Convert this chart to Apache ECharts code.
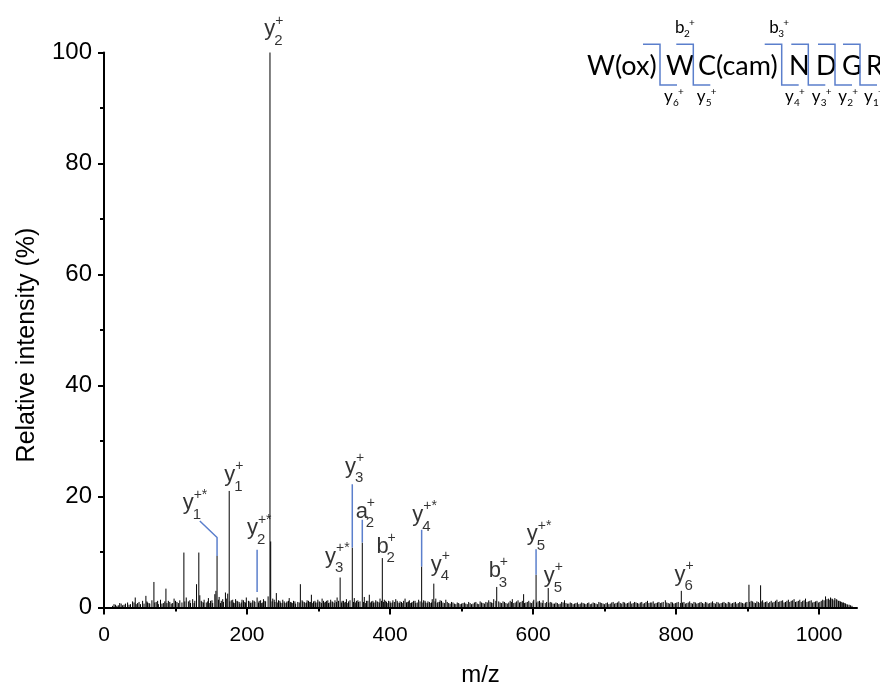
<!DOCTYPE html>
<html><head><meta charset="utf-8">
<script src="https://cdn.jsdelivr.net/npm/echarts@6/dist/echarts.min.js"></script>
<style>html,body{margin:0;padding:0;background:#fff}#c{width:880px;height:687px}</style>
</head><body><div id="c"></div>
<script>
// ---- axis ticks ----
const xTickValues = [0, 200, 400, 600, 800, 1000];
const yTickValues = [0, 20, 40, 60, 80, 100];
const xMaxMz = 1053;

// ---- labelled / prominent peaks [m/z, relative intensity %] ----
const majorPeaks = [
  [43.7,1.8],[58.6,2.1],[69.8,4.6],[86.6,3.4],[111.7,9.9],[129.4,4.2],[132.6,9.9],
  [156.5,3.0],[158.1,9.3],[169.8,2.7],[175.1,21.0],[214.1,1.8],[229.5,2.0],
  [232.1,100],[233.1,11.9],[241.0,2.6],[274.6,4.2],[330.2,5.4],[347.2,10.8],
  [361.2,11.7],[389.2,8.9],[444.2,7.4],[461.2,4.3],[549.2,3.7],[586.8,2.4],
  [604.2,5.9],[621.2,3.5],[807.3,3.0],[901.9,4.1],[918.2,4.0]
];

// ---- small background peaks [m/z, relative intensity %] ----
const noisePeaks = [
  [12,0.3],[16,0.5],[20,0.4],[24,0.7],[28,0.5],[33,0.9],[37,0.6],[40,1.1],[47,0.8],[51,0.6],
  [54,1.2],[61,0.9],[64,0.7],[67,1.3],[73,1.0],[76,0.6],[79,1.4],[83,0.8],[90,1.2],[94,0.7],
  [98,1.6],[102,1.0],[106,1.3],[109,0.9],[115,1.8],[118,1.1],[121,0.8],[124,1.5],[127,1.2],[134,2.2],
  [137,1.0],[140,1.4],[143,0.9],[146,1.7],[149,1.2],[152,0.8],[155,2.4],[161,1.9],[164,1.2],[167,1.0],
  [171,1.6],[173,2.5],[178,1.3],[181,0.9],[184,1.5],[187,1.1],[190,0.7],[193,1.4],[196,1.0],[199,1.8],
  [202,1.2],[205,0.8],[208,1.3],[211,1.0],[217,1.2],[220,0.8],[223,1.5],[226,1.1],[236,1.6],[239,1.0],
  [244,1.3],[247,0.9],[250,1.4],[253,0.8],[256,1.1],[259,1.7],[262,0.9],[265,1.2],[268,0.7],[271,1.0],
  [278,1.1],[281,0.8],[284,1.3],[287,1.0],[290,2.3],[293,1.1],[296,0.9],[299,1.4],[302,1.0],[305,1.6],
  [308,0.9],[311,1.2],[314,0.8],[317,1.4],[320,1.0],[323,1.3],[326,1.8],[333,1.2],[336,0.9],[339,1.5],
  [342,1.1],[350,1.7],[353,1.2],[356,1.0],[364,1.9],[367,1.2],[371,2.3],[374,1.1],[377,0.9],[380,1.3],
  [383,1.0],[386,1.6],[392,1.4],[395,1.0],[398,1.2],[401,0.8],[404,1.3],[408,1.5],[411,0.9],[414,1.1],
  [417,0.8],[421,1.6],[424,1.0],[427,1.3],[430,0.9],[433,1.2],[436,0.8],[440,1.4],[447,1.3],[450,0.9],
  [453,1.1],[456,0.8],[459,1.5],[464,1.6],[467,1.0],[470,1.3],[474,0.9],[478,1.4],[482,0.8],[486,1.0],
  [490,0.7],[494,0.9],[498,0.6],[502,0.8],[506,0.7],[510,1.0],[514,0.6],[518,0.9],[522,0.7],[526,1.1],
  [530,0.8],[534,1.0],[538,1.3],[542,0.9],[545,1.5],[552,1.1],[556,0.8],[560,1.0],[564,0.7],[568,1.2],
  [571,1.5],[575,0.9],[579,1.3],[583,1.0],[590,0.9],[594,1.2],[598,0.8],[601,1.4],[607,1.1],[611,0.9],
  [614,1.3],[617,0.8],[624,1.0],[628,0.7],[632,0.9],[636,0.6],[640,1.0],[644,1.3],[648,0.7],[652,0.9],
  [656,0.6],[660,0.8],[664,0.6],[668,0.9],[672,0.7],[676,0.8],[680,0.6],[684,0.9],[688,0.7],[692,1.0],
  [696,0.8],[700,0.6],[704,0.9],[708,0.7],[712,1.0],[716,0.8],[720,1.1],[724,0.7],[728,0.9],[732,0.8],
  [736,1.1],[740,0.8],[744,0.9],[748,0.7],[752,1.0],[756,0.8],[760,1.2],[764,0.9],[768,1.1],[772,0.8],
  [776,1.0],[780,0.9],[785,1.3],[789,0.8],[793,1.0],[797,0.7],[801,0.9],[811,1.0],[815,0.8],[819,1.1],
  [823,0.7],[827,0.9],[831,0.8],[835,1.0],[839,0.7],[843,0.9],[847,0.8],[851,1.1],[855,0.7],[859,0.9],
  [863,0.8],[867,1.0],[871,0.7],[875,0.9],[879,0.8],[883,1.0],[887,0.8],[891,0.9],[895,0.7],[899,1.0],
  [905,1.2],[909,0.9],[913,1.1],[916,0.8],[921,1.3],[925,1.0],[929,0.8],[933,1.2],[937,1.0],[941,1.4],
  [945,1.1],[949,1.3],[953,1.0],[957,1.4],[961,1.2],[965,1.5],[969,1.1],[973,1.4],[977,1.2],[981,1.6],
  [985,1.1],[989,1.3],[993,1.0],[997,1.2],[1001,1.0],[1005,1.4],[1009,2.0],[1013,1.6],[1016,1.8],[1019,1.5],
  [1022,1.7],[1025,1.4],[1028,1.2],[1031,1.0],[1034,0.9],[1037,0.7],[1040,0.5],[1044,0.4],
  [14,0.6],[18,0.3],[22,0.8],[26,0.4],[30,0.7],[35,0.5],[42,0.9],[45,0.6],[49,1.0],[56,0.7],
  [60,1.1],[63,0.8],[71,0.9],[75,1.2],[81,0.7],[85,1.1],[88,0.8],[92,1.0],[96,0.8],[100,1.2],
  [104,0.8],[113,1.1],[120,1.3],[126,0.8],[136,1.2],[139,0.9],[145,1.1],[148,0.8],[151,1.3],[160,1.4],
  [163,0.8],[166,1.5],[176,1.1],[180,1.4],[183,0.8],[186,1.2],[189,1.0],[192,0.9],[195,1.3],[198,0.9],
  [204,1.1],[207,0.9],[210,1.2],[216,0.9],[219,1.3],[222,0.9],[225,1.2],[235,1.1],[238,1.4],[243,0.9],
  [246,1.2],[249,0.8],[252,1.1],[255,0.9],[258,1.2],[261,1.0],[264,0.8],[267,1.1],[273,0.9],[277,1.3],
  [280,1.0],[283,0.9],[286,1.2],[289,1.0],[292,0.8],[295,1.2],[298,0.9],[301,1.1],[304,0.8],[307,1.2],
  [310,1.0],[313,1.3],[316,0.9],[319,1.1],[322,0.8],[325,1.0],[328,1.2],[332,0.9],[335,1.2],[338,1.0],
  [341,0.8],[344,1.3],[349,1.0],[352,0.9],[355,1.3],[358,1.1],[363,1.0],[366,0.8],[369,1.2],[373,0.9],
  [376,1.2],[379,0.9],[382,1.1],[385,0.9],[388,1.2],[391,1.0],[394,1.2],[397,0.8],[400,1.1],[403,0.9],
  [406,1.0],[410,1.2],[413,0.8],[416,1.0],[419,1.2],[423,0.9],[426,1.1],[429,0.8],[432,1.0],[435,1.2],
  [438,0.9],[442,1.1],[446,0.9],[449,1.2],[452,0.8],[455,1.0],[458,0.9],[463,1.1],[466,0.8],[469,1.0],
  [472,1.2],[476,0.8],[480,1.0],[484,0.7],[488,0.9],[492,0.6],[496,0.8],[500,0.7],[504,0.9],[508,0.6],
  [512,0.8],[516,0.7],[520,1.0],[524,0.6],[528,0.9],[532,0.7],[536,0.9],[540,1.0],[544,0.8],[548,1.2],
  [554,0.9],[558,1.1],[562,0.8],[566,0.9],[570,1.0],[573,0.8],[577,1.1],[581,0.9],[585,1.2],[588,0.8],
  [592,1.0],[596,0.9],[600,1.1],[605,0.9],[609,1.2],[613,0.8],[619,1.0],[622,0.8],[626,0.9],[630,0.7],
  [634,0.8],[638,0.7],[642,0.9],[646,0.8],[650,0.7],[654,0.8],[658,0.7],[662,0.9],[666,0.7],[670,0.8],
  [674,0.6],[678,0.9],[682,0.7],[686,0.8],[690,0.6],[694,0.9],[698,0.7],[702,0.8],[706,0.6],[710,0.9],
  [714,0.7],[718,0.9],[722,0.8],[726,1.0],[730,0.7],[734,0.9],[738,0.7],[742,1.0],[746,0.8],[750,0.9],
  [754,0.7],[758,1.0],[762,0.8],[766,0.9],[770,0.7],[774,0.9],[778,0.8],[782,1.0],[787,0.9],[791,0.7],
  [795,0.9],[799,0.8],[803,1.0],[806,0.8],[809,0.9],[813,0.7],[817,0.9],[821,0.8],[825,1.0],[829,0.7],
  [833,0.9],[837,0.8],[841,1.0],[845,0.7],[849,0.9],[853,0.8],[857,1.0],[861,0.7],[865,0.9],[869,0.8],
  [873,1.0],[877,0.7],[881,0.9],[885,0.7],[889,1.0],[893,0.8],[897,0.9],[903,1.0],[907,1.1],[911,0.8],
  [915,1.0],[919,1.1],[923,0.9],[927,1.1],[931,1.0],[935,0.9],[939,1.2],[943,1.0],[947,1.2],[951,0.9],
  [955,1.2],[959,1.0],[963,1.3],[967,1.0],[971,1.2],[975,1.0],[979,1.3],[983,1.0],[987,1.2],[991,0.9],
  [995,1.1],[999,0.9],[1003,1.2],[1007,1.3],[1011,1.5],[1015,1.4],[1018,1.6],[1021,1.3],[1024,1.5],[1027,1.2],
  [1030,1.1],[1033,0.9],[1036,0.8],[1039,0.6],[1042,0.5],[1046,0.3]
];

// ---- peak annotations (anchor = left edge / mid-height of ion letter, data units) ----
const labelIon = ['y','y','y','y','y','y','a','b','y','y','b','y','y','y'];
const labelSub = ['2','1','1','2','3','3','2','2','4','4','3','5','5','6'];
const labelSup = ['+','+*','+','+*','+*','+','+','+','+*','+','+','+*','+','+'];
const labelMz  = [224.8,110.7,168.9,200.6,309.9,337.8,352.8,381.6,431.8,457.5,538.9,592.0,615.7,798.5];
const labelInt = [104.1,18.7,23.8,14.2,9.1,25.3,17.2,10.9,16.6,7.6,6.5,13.1,5.6,5.8];

// ---- blue leader lines (data units) ----
const leaderLines = [
  [[134,15.6],[158.1,12.6],[158.1,9.3]],
  [[214.1,10.4],[214.1,2.8]],
  [[347.2,22.2],[347.2,10.8]],
  [[361.2,15.8],[361.2,11.7]],
  [[444.2,14.0],[444.2,7.4]],
  [[604.2,10.5],[604.2,5.9]]
];

// ---- peptide sequence annotation ----
const residues = ['W(ox)','W','C(cam)','N','D','G','R'];
const residueX = [587,666,698,789,816,842,866];
const cleavageX = [660,693.3,781.7,808.3,835,860];
const yIonNums = ['6','5','4','3','2','1'];
const yIonX = [664,696.7,785,811.7,838.3,864];
const bIonNums = ['2','3'];
const bIonX = [675,769.3];

const FONT = '"Liberation Sans", Arial, sans-serif';
const SEQFONT = 'Lato, "Open Sans", sans-serif';
const BLUE = '#5b7fcc';

const chart = echarts.init(document.getElementById('c'), null, {renderer: 'canvas'});
const GL = 104, GT = 52.5, GH = 555, GW = 753;

const allPeaks = noisePeaks.concat(majorPeaks);
const labelData = labelMz.map((m, i) => [m, labelInt[i], i]);

const series = [
  {
    type: 'custom', xAxisIndex: 0, yAxisIndex: 0, data: allPeaks,
    encode: {x: 0, y: 1}, clip: false, silent: true, z: 3,
    renderItem: function (params, api) {
      const p0 = api.coord([api.value(0), 0]);
      const p1 = api.coord([api.value(0), api.value(1)]);
      return {type: 'line', shape: {x1: p0[0], y1: p0[1], x2: p1[0], y2: p1[1]},
              style: {stroke: '#000', lineWidth: 1}};
    }
  }
];
leaderLines.forEach(pts => series.push({
  type: 'line', xAxisIndex: 0, yAxisIndex: 0, data: pts, symbol: 'none', silent: true, z: 4,
  lineStyle: {color: BLUE, width: 1.5}
}));
function labelSeries(textArr, fontSize, offset) {
  return {
    type: 'scatter', xAxisIndex: 0, yAxisIndex: 0, data: labelData, symbolSize: 1, clip: false,
    itemStyle: {color: 'rgba(0,0,0,0)'}, silent: true, z: 5,
    label: {
      show: true, position: [0, 0], align: 'left', verticalAlign: 'middle', offset: offset,
      fontSize: fontSize, fontFamily: FONT, color: '#000',
      formatter: p => textArr[p.data[2]]
    }
  };
}
series.push(labelSeries(labelIon, 22, [0, 0]));
series.push(labelSeries(labelSub, 15, [10, 11.5]));
series.push(labelSeries(labelSup, 14, [11, -8.5]));

// graphic peptide annotation
const graphic = [];
residues.forEach((r, i) => graphic.push({
  type: 'text', x: residueX[i], y: 66.7, silent: true,
  style: {text: r, font: '27px ' + SEQFONT, fill: '#000', align: 'left', verticalAlign: 'middle',
          textAlign: 'left', textVerticalAlign: 'middle'}
}));
cleavageX.forEach(cx => graphic.push({
  type: 'polyline', silent: true,
  shape: {points: [[cx - 17, 44.3], [cx, 44.3], [cx, 85], [cx + 17, 85]]},
  style: {stroke: BLUE, lineWidth: 1.5, fill: null}
}));
function smallIon(letter, num, x, midY) {
  graphic.push({type: 'text', x: x, y: midY, silent: true,
    style: {text: letter, font: '17px ' + SEQFONT, fill: '#000', align: 'left', verticalAlign: 'middle', textAlign: 'left', textVerticalAlign: 'middle'}});
  graphic.push({type: 'text', x: x + 9, y: midY + 6, silent: true,
    style: {text: num, font: '10px ' + SEQFONT, fill: '#000', align: 'left', verticalAlign: 'middle', textAlign: 'left', textVerticalAlign: 'middle'}});
  graphic.push({type: 'text', x: x + 14, y: midY - 5, silent: true,
    style: {text: '+', font: '10px ' + SEQFONT, fill: '#000', align: 'left', verticalAlign: 'middle', textAlign: 'left', textVerticalAlign: 'middle'}});
}
yIonNums.forEach((n, i) => smallIon('y', n, yIonX[i], 97));
bIonNums.forEach((n, i) => smallIon('b', n, bIonX[i], 28));

const option = {
  animation: false,
  backgroundColor: '#fff',
  grid: [
    {left: GL, top: GT, width: GW, height: GH, outerBoundsMode: 'none'},
    {left: GL, top: GT, width: GW * 1000 / xMaxMz, height: GH, outerBoundsMode: 'none'}
  ],
  xAxis: [
    {gridIndex: 0, type: 'value', min: 0, max: xMaxMz,
     axisLine: {show: true, lineStyle: {color: '#000', width: 2}},
     axisTick: {show: false}, axisLabel: {show: false}, splitLine: {show: false},
     name: 'm/z', nameLocation: 'middle', nameGap: 56,
     nameTextStyle: {fontSize: 24, fontFamily: FONT, color: '#000'}},
    {gridIndex: 1, type: 'value', min: xTickValues[0], max: xTickValues[xTickValues.length - 1],
     interval: xTickValues[1] - xTickValues[0],
     axisLine: {show: false},
     axisTick: {show: true, length: 7, lineStyle: {color: '#000', width: 2}},
     minorTick: {show: true, splitNumber: 2, length: 4, lineStyle: {color: '#000', width: 2}},
     axisLabel: {fontSize: 21, fontFamily: FONT, color: '#000', margin: 17, formatter: v => String(v)},
     splitLine: {show: false}, minorSplitLine: {show: false}}
  ],
  yAxis: [
    {gridIndex: 0, type: 'value', min: yTickValues[0], max: yTickValues[yTickValues.length - 1],
     interval: yTickValues[1] - yTickValues[0],
     axisLine: {show: true, lineStyle: {color: '#000', width: 2}},
     axisTick: {show: true, length: 6, lineStyle: {color: '#000', width: 2}},
     minorTick: {show: true, splitNumber: 2, length: 4, lineStyle: {color: '#000', width: 2}},
     axisLabel: {fontSize: 24, fontFamily: FONT, color: '#000', margin: 12, formatter: v => String(v)},
     splitLine: {show: false}, minorSplitLine: {show: false},
     name: 'Relative intensity (%)', nameLocation: 'middle', nameRotate: 90, nameGap: 64,
     nameTextStyle: {fontSize: 25, fontFamily: FONT, color: '#000', padding: [0, 30, 0, 0]}},
    {gridIndex: 1, type: 'value', min: 0, max: 100, show: false}
  ],
  series: series,
  graphic: graphic
};
chart.setOption(option);
</script>
</body></html>
